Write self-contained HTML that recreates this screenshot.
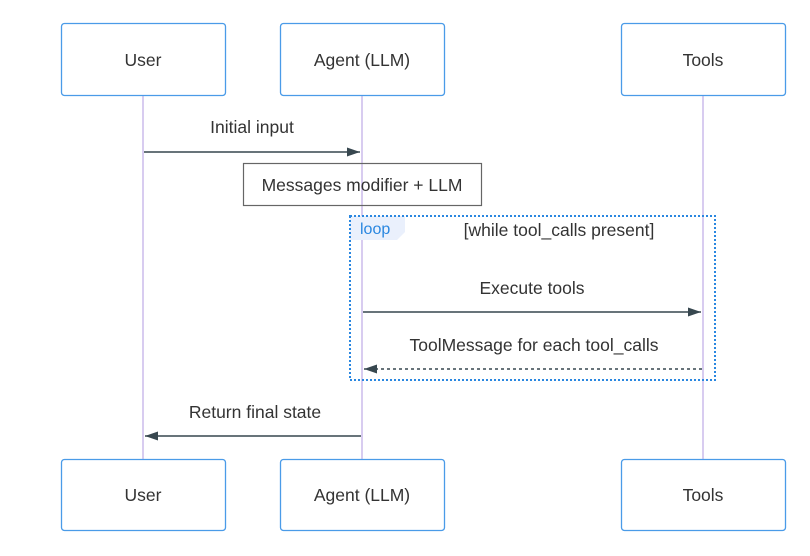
<!DOCTYPE html>
<html><head><style>
body{margin:0;background:#fff;}
text{font-family:"Liberation Sans",sans-serif;}
</style></head><body>
<svg width="810" height="551" viewBox="0 0 810 551" xmlns="http://www.w3.org/2000/svg">
<defs>
<marker id="a" markerWidth="14" markerHeight="12" refX="13" refY="6" orient="auto" markerUnits="userSpaceOnUse"><path d="M0,1.5 L13,6 L0,10.5 z" fill="#37474f"/></marker>
</defs>
<g stroke="#d8ccf0" stroke-width="2">
<line x1="143" y1="95" x2="143" y2="459"/>
<line x1="362" y1="95" x2="362" y2="459"/>
<line x1="703" y1="95" x2="703" y2="459"/>
</g>
<g fill="#fff" stroke="#4a9be8" stroke-width="1.3">
<rect x="61.5" y="23.5" width="164" height="72" rx="3"/>
<rect x="280.5" y="23.5" width="164" height="72" rx="3"/>
<rect x="621.5" y="23.5" width="164" height="72" rx="3"/>
<rect x="61.5" y="459.5" width="164" height="71" rx="3"/>
<rect x="280.5" y="459.5" width="164" height="71" rx="3"/>
<rect x="621.5" y="459.5" width="164" height="71" rx="3"/>
</g>
<g font-size="17.5" fill="#333" text-anchor="middle">
<text x="143" y="66">User</text>
<text x="362" y="66">Agent (LLM)</text>
<text x="703" y="66">Tools</text>
<text x="143" y="501">User</text>
<text x="362" y="501">Agent (LLM)</text>
<text x="703" y="501">Tools</text>
</g>
<g font-size="17.5" fill="#333" text-anchor="middle">
<text x="252" y="133">Initial input</text>
<text x="362" y="191">Messages modifier + LLM</text>
<text x="559" y="236">[while tool_calls present]</text>
<text x="532" y="294">Execute tools</text>
<text x="534" y="351">ToolMessage for each tool_calls</text>
<text x="255" y="418">Return final state</text>
</g>
<line x1="144" y1="152" x2="360" y2="152" stroke="#37474f" stroke-width="1.5" marker-end="url(#a)"/>
<rect x="243.5" y="163.5" width="238" height="42" fill="none" stroke="#666" stroke-width="1.2"/>
<path d="M350,216 L405,216 L405,232 L397,240 L350,240 z" fill="#eaf0fc"/>
<rect x="350" y="216" width="365" height="164" fill="none" stroke="#2a87e0" stroke-width="2" stroke-dasharray="2,2"/>
<text x="360" y="234" font-size="16" fill="#2a87e0">loop</text>
<line x1="363" y1="312" x2="701" y2="312" stroke="#37474f" stroke-width="1.5" marker-end="url(#a)"/>
<line x1="702" y1="369" x2="364" y2="369" stroke="#37474f" stroke-width="1.5" stroke-dasharray="3,3" marker-end="url(#a)"/>
<line x1="361" y1="436" x2="145" y2="436" stroke="#37474f" stroke-width="1.5" marker-end="url(#a)"/>
</svg>
</body></html>
